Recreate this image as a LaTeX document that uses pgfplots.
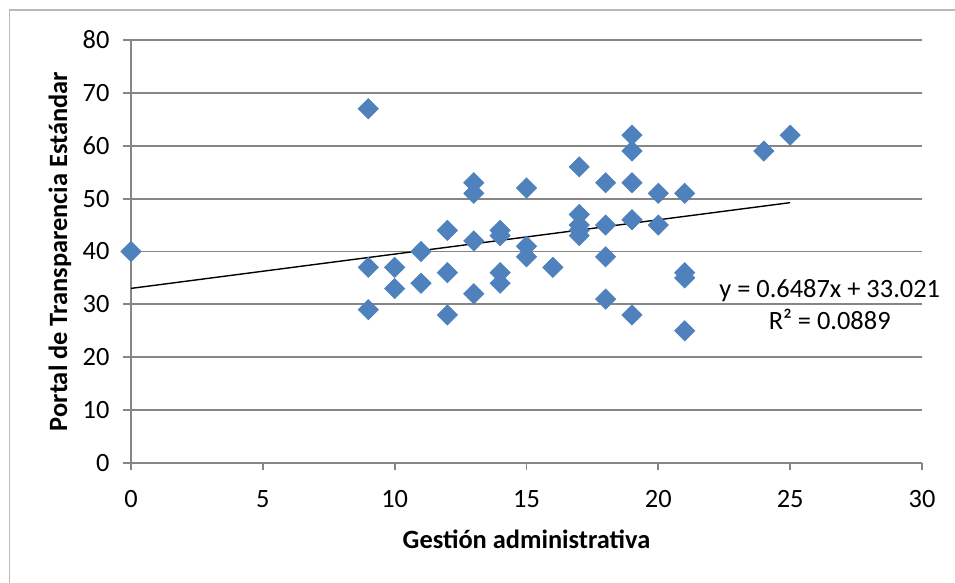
\documentclass[border=0pt]{standalone}
\usepackage{fontspec}
\setmainfont{Carlito}
\usepackage{pgfplots}
\pgfplotsset{compat=1.18}
\definecolor{ptblue}{HTML}{4F81BD}
\definecolor{gridgray}{HTML}{868686}
\begin{document}
\begin{tikzpicture}
\useasboundingbox (0,0) rectangle (477.5pt,291.5pt);
\draw[color=gray!55, line width=0.6pt] (4.75pt,-20pt) rectangle (520pt,286.5pt);
\begin{axis}[
  at={(65.5pt,60pt)}, anchor=south west,
  scale only axis, width=395.5pt, height=211.5pt,
  xmin=0, xmax=30, ymin=0, ymax=80,
  xtick={0,5,...,30}, ytick={0,10,...,80},
  axis x line=bottom, axis y line=left,
  axis line style={gridgray, line width=0.9pt, -},
  ymajorgrids, grid style={gridgray, line width=0.9pt},
  tick align=outside, major tick length=3.75pt,
  tick style={gridgray, line width=0.9pt},
  font=\fontsize{13.2}{16}\selectfont,
  /pgf/number format/assume math mode=true,
  xticklabel style={yshift=-6.5pt},
  yticklabel style={xshift=-3.5pt},
  clip=false,
  xlabel={\bfseries Gestión administrativa},
  xlabel style={at={(axis description cs:0.5,-0.1797)}, anchor=center},
  ylabel={\bfseries Portal de Transparencia Estándar},
  ylabel style={at={(axis description cs:-0.0898,0.5)}, anchor=center},
]
\addplot[only marks, mark=square*, mark size=3.54pt, color=ptblue,
  mark options={rotate=45, fill=ptblue, draw=ptblue}] table {
x y
0 40
9 67
9 37
9 29
10 37
10 33
11 40
11 34
12 44
12 36
12 28
13 53
13 51
13 42
13 32
14 44
14 43
14 36
14 34
15 52
15 41
15 39
16 37
17 56
17 47
17 45
17 44
17 43
18 53
18 45
18 39
18 31
19 62
19 59
19 53
19 46
19 28
20 51
20 45
21 51
21 36
21 35
21 25
24 59
25 62
};
\addplot[black, line width=0.7pt, no marks] coordinates {(0,33.021) (25,49.2385)};
\node[align=center, font=\fontsize{13.2}{16}\selectfont] at (axis cs:26.5,30) {y = 0.6487x + 33.021\\R² = 0.0889};
\end{axis}
\end{tikzpicture}
\end{document}
